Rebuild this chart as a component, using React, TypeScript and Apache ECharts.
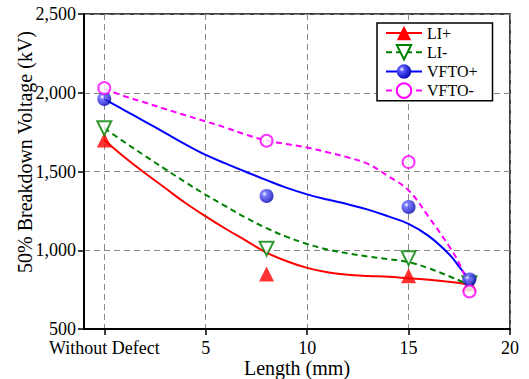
import React, { useEffect, useRef } from "react";
import * as echarts from "echarts";

// Measured points
const pointX = [0, 8, 15, 18];
const liPlus = [1700, 850, 838, 785];
const liMinus = [1775, 1010, 950, 790];
const vftoPlus = [1960, 1345, 1275, 815];
const vftoMinus = [2030, 1695, 1560, 738];

// Fitted trend curves
const curveX = [0, 1, 2, 3, 4, 5, 6, 7, 8, 9, 10, 11, 12, 13, 14, 15, 16, 17, 17.5, 18];
const liPlusCurve = [1700, 1590, 1490, 1395, 1300, 1215, 1135, 1060, 985, 930, 888, 860, 845, 837, 831, 822, 813, 800, 792, 780];
const liMinusCurve = [1775, 1686, 1600, 1515, 1432, 1352, 1278, 1205, 1140, 1085, 1040, 1005, 980, 960, 943, 925, 885, 835, 808, 778];
const vftoPlusCurve = [1960, 1888, 1817, 1745, 1672, 1605, 1550, 1497, 1445, 1396, 1355, 1322, 1292, 1258, 1215, 1168, 1090, 975, 895, 812];
const vftoMinusCurve = [2025, 1978, 1938, 1897, 1857, 1818, 1778, 1733, 1697, 1674, 1652, 1622, 1590, 1548, 1470, 1380, 1210, 1025, 915, 765];

const xTicks = [0, 5, 10, 15, 20];
const yTicks = [500, 1000, 1500, 2000, 2500];
const seriesNames = ["LI+", "LI-", "VFTO+", "VFTO-"];

const FONT = "Liberation Serif";

const zip = (xs: number[], ys: number[]) => xs.map((x, i) => [x, ys[i]]);

export default function App() {
  const ref = useRef<HTMLDivElement>(null);

  useEffect(() => {
    if (!ref.current) return;
    const chart = echarts.init(ref.current, null, { renderer: "svg" });

    const sphere = new echarts.graphic.RadialGradient(0.35, 0.35, 0.7, [
      { offset: 0, color: "#ffffff" },
      { offset: 0.25, color: "#5a5aff" },
      { offset: 1, color: "#0000b0" },
    ]);

    const styles = [
      { color: "#ff0000", type: "solid", symbol: "triangle", rotate: 0, fill: "#ff0000", size: 15, curve: liPlusCurve, pts: liPlus },
      { color: "#008000", type: [6, 4], symbol: "triangle", rotate: 180, fill: "#ffffff", size: 14, curve: liMinusCurve, pts: liMinus },
      { color: "#0000ff", type: "solid", symbol: "circle", rotate: 0, fill: sphere, size: 14, curve: vftoPlusCurve, pts: vftoPlus },
      { color: "#ff00ff", type: [6, 4], symbol: "circle", rotate: 0, fill: "#ffffff", size: 12, curve: vftoMinusCurve, pts: vftoMinus },
    ];

    const series: any[] = [];
    styles.forEach((s, i) => {
      const hollow = s.fill === "#ffffff";
      const itemStyle = hollow
        ? { color: "#ffffff", borderColor: s.color, borderWidth: 2 }
        : { color: s.fill, borderWidth: 0 };
      series.push({
        name: seriesNames[i],
        type: "line",
        smooth: 0.4,
        showSymbol: false,
        symbol: s.symbol,
        symbolRotate: s.rotate,
        symbolSize: s.size,
        data: zip(curveX, s.curve),
        lineStyle: { color: s.color, width: 2, type: s.type },
        itemStyle,
        z: 2,
      });
      series.push({
        name: seriesNames[i] + " data",
        type: "scatter",
        symbol: s.symbol,
        symbolRotate: s.rotate,
        symbolSize: s.size,
        data: zip(pointX, s.pts),
        itemStyle,
        z: 3,
      });
    });

    const fmt = (v: number) => String(v).replace(/\B(?=(\d{3})+(?!\d))/g, ",");

    chart.setOption({
      animation: false,
      backgroundColor: "#ffffff",
      grid: {
        left: 84,
        right: 19,
        top: 14,
        bottom: 50,
        show: true,
        borderColor: "#000",
        borderWidth: 1.5,
        containLabel: false,
        outerBoundsMode: "none",
      },
      legend: {
        data: seriesNames,
        orient: "vertical",
        left: 377,
        top: 23,
        itemWidth: 36,
        itemHeight: 18,
        itemGap: 3,
        padding: [2, 15, 2, 8],
        backgroundColor: "#ffffff",
        borderColor: "#000",
        borderWidth: 1.5,
        borderRadius: 0,
        lineStyle: { width: 2 },
        textStyle: { fontFamily: FONT, fontSize: 16, color: "#000" },
      },
      xAxis: {
        type: "value",
        min: -1,
        max: 20,
        name: "Length (mm)",
        nameLocation: "middle",
        nameGap: 29,
        nameMoveOverlap: false,
        nameTextStyle: { fontFamily: FONT, fontSize: 20, color: "#000" },
        axisLine: { show: true, onZero: false, lineStyle: { color: "#000", width: 2 } },
        axisTick: { show: true, inside: false, length: 6, customValues: xTicks, lineStyle: { color: "#000", width: 1.5 } },
        axisLabel: {
          customValues: xTicks,
          margin: 10,
          fontFamily: FONT,
          fontSize: 18,
          color: "#000",
          formatter: (v: number) => (v === 0 ? "Without Defect" : String(v)),
        },
        splitLine: { show: true, lineStyle: { color: "#888", width: 1, type: [6, 4] } },
      },
      yAxis: {
        type: "value",
        min: 500,
        max: 2500,
        interval: 500,
        axisLine: { show: true, onZero: false, lineStyle: { color: "#000", width: 2 } },
        axisTick: { show: true, inside: false, length: 6, lineStyle: { color: "#000", width: 1.5 } },
        axisLabel: {
          margin: 8,
          fontFamily: FONT,
          fontSize: 18,
          color: "#000",
          formatter: (v: number) => (yTicks.includes(v) ? fmt(v) : ""),
        },
        splitLine: { show: true, lineStyle: { color: "#888", width: 1, type: [6, 4] } },
      },
      graphic: [
        {
          type: "text",
          x: 25,
          y: 152,
          rotation: Math.PI / 2,
          style: {
            text: "50% Breakdown Voltage (kV)",
            fontFamily: FONT,
            fontSize: 20,
            fill: "#000",
            textAlign: "center",
            textVerticalAlign: "middle",
          },
        },
      ],
      series,
    });

    return () => chart.dispose();
  }, []);

  return (
    <div
      ref={ref}
      style={{ position: "absolute", left: 0, top: 0, width: 529, height: 379 }}
    />
  );
}
